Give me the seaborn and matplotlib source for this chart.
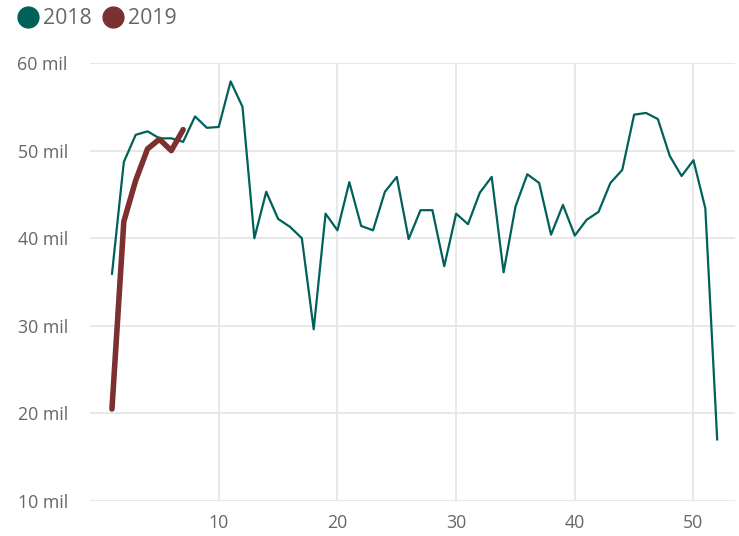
import numpy as np
import pandas as pd
import matplotlib
matplotlib.use('Agg')
import matplotlib.pyplot as plt
import seaborn as sns
from matplotlib.lines import Line2D
from matplotlib.ticker import FuncFormatter

# weekly values, thousands
weeks_2018 = list(range(1, 53))
values_2018 = [35.9, 48.7, 51.8, 52.2, 51.4, 51.4, 51.0, 53.9, 52.6, 52.7,
               57.9, 55.0, 40.0, 45.3, 42.2, 41.3, 40.0, 29.6, 42.8, 40.9,
               46.4, 41.4, 40.9, 45.3, 47.0, 39.9, 43.2, 43.2, 36.8, 42.8,
               41.6, 45.2, 47.0, 36.1, 43.6, 47.3, 46.3, 40.4, 43.8, 40.3,
               42.1, 43.0, 46.3, 47.8, 54.1, 54.3, 53.6, 49.4, 47.1, 48.9,
               43.4, 17.0]
weeks_2019 = list(range(1, 8))
values_2019 = [20.5, 41.9, 46.6, 50.2, 51.3, 50.0, 52.4]

labels = ['2018', '2019']
colors = ['#00615A', '#7D3030']
y_ticks = [10, 20, 30, 40, 50, 60]
x_ticks = [10, 20, 30, 40, 50]

sns.set_theme(style='white')
plt.rcParams['font.family'] = ['Open Sans', 'DejaVu Sans']

fig = plt.figure(figsize=(7.39, 5.36), dpi=100)
ax = fig.add_axes([90 / 739, 1 - 501 / 536, 645 / 739, 438 / 536])

sns.lineplot(x=weeks_2018, y=values_2018, ax=ax, color=colors[0], linewidth=1.6)
sns.lineplot(x=weeks_2019, y=values_2019, ax=ax, color=colors[1], linewidth=4.0,
             solid_capstyle='round', solid_joinstyle='round')

ax.set_xlim(-0.85, 53.5)
ax.set_ylim(10, 60)
ax.set_xticks(x_ticks)
ax.set_yticks(y_ticks)
ax.yaxis.set_major_formatter(FuncFormatter(lambda v, p: f'{int(v)} mil'))
ax.grid(True, color='#E6E6E6', linewidth=1.3)
ax.set_axisbelow(True)
for s in ax.spines.values():
    s.set_visible(False)
ax.tick_params(axis='both', length=0, labelsize=12.8, labelcolor='#666666')
ax.tick_params(axis='y', pad=16)
ax.tick_params(axis='x', pad=9)

handles = [Line2D([], [], marker='o', linestyle='none', markersize=15,
                  markerfacecolor=c, markeredgecolor=c) for c in colors]
fig.legend(handles, labels, loc='upper left', bbox_to_anchor=(0.004, 1.012),
           ncol=2, frameon=False, fontsize=15.3, labelcolor='#666666',
           handlelength=1.0, handletextpad=0.2, columnspacing=0.5,
           borderaxespad=0.3)

plt.savefig('out.png', dpi=100)
plt.close()
